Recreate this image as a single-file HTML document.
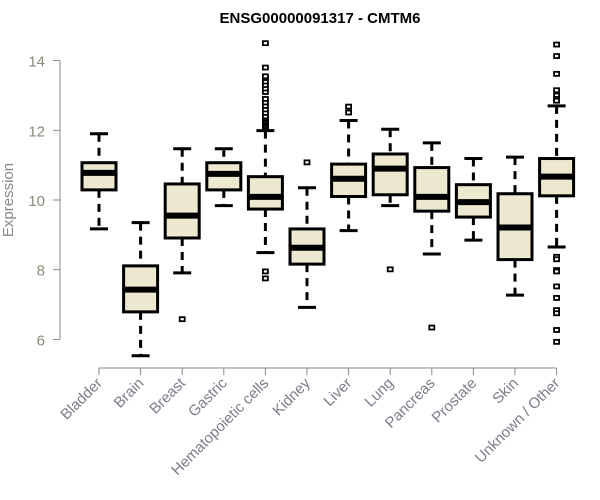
<!DOCTYPE html>
<html><head><meta charset="utf-8"><style>
body{margin:0;background:#fff;}
svg{display:block;font-family:"Liberation Sans",sans-serif;}
</style></head><body>
<svg id="chart" width="600" height="500"></svg>
<script>
const categories=["Bladder","Brain","Breast","Gastric","Hematopoietic cells","Kidney","Liver","Lung","Pancreas","Prostate","Skin","Unknown / Other"];
const lowWhisker=[9.17,5.53,7.91,9.84,8.49,6.92,9.12,9.84,8.45,8.85,7.27,8.65];
const q1=[10.29,6.79,8.91,10.29,9.74,8.16,10.10,10.15,9.68,9.51,8.29,10.12];
const medians=[10.78,7.43,9.55,10.75,10.09,8.63,10.61,10.90,10.09,9.94,9.21,10.67];
const q3=[11.07,8.11,10.46,11.07,10.67,9.17,11.03,11.32,10.93,10.44,10.18,11.19];
const highWhisker=[11.90,9.35,11.47,11.47,11.99,10.35,12.28,12.03,11.64,11.19,11.23,12.70];
const outliers=[[],[],[6.58],[],[7.95,7.75,12.05,12.1,12.15,12.2,12.25,12.3,12.35,12.4,12.5,12.6,12.7,12.8,12.9,13.1,13.2,13.3,13.4,13.5,13.55,13.8,14.5],[11.08],[12.68,12.51],[8.01],[6.34],[],[],[14.46,14.13,13.62,13.15,13.0,12.9,12.85,8.37,8.3,7.99,7.95,7.52,7.19,6.84,6.75,6.27,5.93]];
const yTicks=[6,8,10,12,14];
const NS="http://www.w3.org/2000/svg";
const svg=document.getElementById('chart');
function y(v){return 200-(v-10)*34.85;}
function x(i){return 99+i*41.6;}
function mk(tag,attrs,parent){const e=document.createElementNS(NS,tag);for(const k in attrs)e.setAttribute(k,attrs[k]);(parent||svg).appendChild(e);return e;}
const t=mk('text',{x:320,y:23,'text-anchor':'middle','font-size':15,'font-weight':'bold',fill:'#000'});


t.textContent="ENSG00000091317 - CMTM6";
const yl=mk('text',{x:13,y:200,'text-anchor':'middle','font-size':15,fill:'#888',transform:'rotate(-90 13 200)'});


yl.textContent="Expression";
const ya=mk('line',{x1:60,x2:60,y1:y(6),y2:y(14),stroke:'#888'});


yTicks.forEach(v=>{
  const tk=mk('line',{x1:53,x2:60,y1:y(v),y2:y(v),stroke:'#888'});
  
  
  const tl=mk('text',{x:45,y:y(v)+6,'text-anchor':'end','font-size':15,fill:'#8a8a7a'});
  
  
  tl.textContent=v;
});
const xa=mk('line',{x1:x(0),x2:x(categories.length-1),y1:368,y2:368,stroke:'#888'});


const hw=17;
categories.forEach((c,i)=>{
  const cx=x(i);
  const g=mk('g',{});
  
  
  mk('line',{x1:cx,x2:cx,y1:y(highWhisker[i]),y2:y(q3[i]),stroke:'#000','stroke-width':3,'stroke-dasharray':'8,6'},g);
  mk('line',{x1:cx,x2:cx,y1:y(q1[i]),y2:y(lowWhisker[i]),stroke:'#000','stroke-width':3,'stroke-dasharray':'8,6'},g);
  mk('line',{x1:cx-9,x2:cx+9,y1:y(highWhisker[i]),y2:y(highWhisker[i]),stroke:'#000','stroke-width':3},g);
  mk('line',{x1:cx-9,x2:cx+9,y1:y(lowWhisker[i]),y2:y(lowWhisker[i]),stroke:'#000','stroke-width':3},g);
  mk('rect',{x:cx-hw,y:y(q3[i]),width:hw*2,height:y(q1[i])-y(q3[i]),fill:'#ede8d0',stroke:'#000','stroke-width':3},g);
  mk('line',{x1:cx-hw,x2:cx+hw,y1:y(medians[i]),y2:y(medians[i]),stroke:'#000','stroke-width':6},g);
  outliers[i].forEach(v=>{mk('rect',{x:cx-2.5,y:y(v)-2,width:5,height:4,fill:'#fff',stroke:'#000','stroke-width':1.8},g);});
  const tk=mk('line',{x1:cx,x2:cx,y1:368,y2:375,stroke:'#888'});
  
  
  const lb=mk('text',{x:cx+4,y:384,'text-anchor':'end','font-size':15,fill:'#7d7d8a',transform:`rotate(-45 ${cx+4} 384)`});
  
  
  lb.textContent=c;
});
</script>
</body></html>
